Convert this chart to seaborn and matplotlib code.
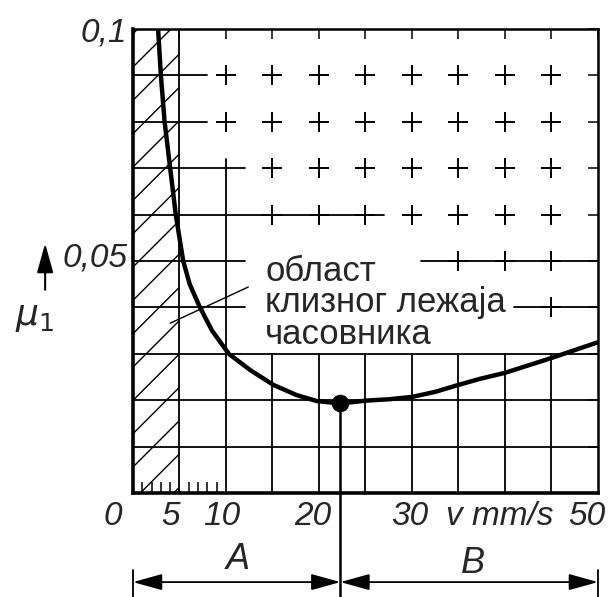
import numpy as np
import seaborn as sns
import matplotlib.pyplot as plt
from matplotlib.ticker import FixedLocator
from matplotlib.transforms import ScaledTranslation

# curve: speed v (mm/s) vs friction coefficient mu1
speed = [2.7, 3.0, 3.4, 4.0, 4.6, 5.4, 6.1, 7.2, 8.5, 10.3, 12.6, 15.1, 17.6,
         19.8, 22.3, 25.0, 27.5, 30.0, 32.5, 35.0, 37.3, 40.0, 45.0, 50.0]
mu = [0.100, 0.090, 0.080, 0.070, 0.060, 0.050, 0.045, 0.040, 0.035, 0.030,
      0.0265, 0.0233, 0.0211, 0.0198, 0.0193, 0.0199, 0.0202, 0.0207, 0.0218,
      0.0233, 0.0246, 0.0259, 0.0291, 0.0325]

# minimum point
min_speed = 22.3
min_mu = 0.0193

# hatched zone (watch bearings)
zone_limit = 5

x_ticks = [0, 5, 10, 15, 20, 25, 30, 35, 40, 45, 50]
x_labels = ['0', '5', '10', '', '20', '', '30', '', 'v mm/s', '', '50']
y_ticks = [0.0, 0.01, 0.02, 0.03, 0.04, 0.05, 0.06, 0.07, 0.08, 0.09, 0.1]
y_labels = ['', '', '', '', '', '0,05', '', '', '', '', '0,1']

note = 'област\nклизног лежаја\nчасовника'

sns.set_style('white')
plt.rcParams['font.family'] = ['Liberation Sans', 'DejaVu Sans']
plt.rcParams['hatch.linewidth'] = 1.0

fig = plt.figure(figsize=(6.1, 5.97), dpi=100)
ax = fig.add_axes([0.218, 0.1742, 0.7623, 0.7772])
ax.set_xlim(0, 50)
ax.set_ylim(0, 0.1)

# grid: full lines in the lower / left part, crosses elsewhere
gkw = dict(color='black', linewidth=1.3, zorder=1)
h_segments = [(0.01, 0, 50), (0.02, 0, 50), (0.03, 0, 50), (0.04, 0, 12),
              (0.04, 41, 50), (0.05, 0, 12), (0.05, 31, 50), (0.06, 0, 27),
              (0.07, 0, 12), (0.08, 0, 8), (0.09, 0, 8)]
for yv, x0, x1 in h_segments:
    ax.plot([x0, x1], [yv, yv], **gkw)
ax.plot([5, 5], [0, 0.1], **gkw)
ax.plot([10, 10], [0, 0.072], **gkw)
for xv in x_ticks[3:-1]:
    ax.plot([xv, xv], [0, 0.03], **gkw)

cx, cy = [], []
for xv in x_ticks[2:-1]:
    for yv in y_ticks[4:-1]:
        if xv == 10 and yv <= 0.07:
            continue
        # leave the note area free
        if 0.035 < yv < 0.055 and xv <= 35 and not (yv == 0.05 and xv == 35):
            continue
        if yv == 0.04 and xv == 40:
            continue
        cx.append(xv)
        cy.append(yv)
ax.plot(cx, cy, linestyle='none', marker='+', markersize=15, mew=1.4,
        color='black', zorder=1)

# hatched region
ax.fill_betweenx([0, 0.1], 0, zone_limit, hatch='/', facecolor='none',
                 edgecolor='black', linewidth=0, zorder=1)

# curve and minimum point
sns.lineplot(x=speed, y=mu, sort=False, color='black', linewidth=3.2,
             ax=ax, zorder=3, solid_joinstyle='round', solid_capstyle='butt')
sns.scatterplot(x=[min_speed], y=[min_mu], s=160, color='black', ax=ax,
                zorder=4, linewidth=0)

# note with leader line
ax.text(14.2, 0.0514, note, fontsize=25, va='top', ha='left', linespacing=0.95,
        zorder=2)
ax.plot([4.0, 12.4], [0.0366, 0.0444], color='black', linewidth=1.0, zorder=2)

# axes frame and ticks
for side in ['left', 'bottom']:
    ax.spines[side].set_linewidth(2.6)
for side in ['top', 'right']:
    ax.spines[side].set_linewidth(1.8)
for sp in ax.spines.values():
    sp.set_color('black')

ax.set_xticks(x_ticks)
ax.set_xticklabels(x_labels, fontsize=24, fontstyle='italic')
ax.xaxis.set_minor_locator(FixedLocator(list(range(1, 10))))
ax.tick_params(axis='x', which='major', bottom=False, top=True, direction='in',
               length=7, width=1.3, pad=6)
ax.tick_params(axis='x', which='minor', bottom=True, top=False, direction='in',
               length=8, width=1.3)
shifts = [-20, -9, -4, 0, -6, 0, -2, 0, -5, 0, -11]
for lbl, dx in zip(ax.get_xticklabels(), shifts):
    lbl.set_transform(lbl.get_transform() + ScaledTranslation(dx / 100, 0, fig.dpi_scale_trans))

ax.set_yticks(y_ticks)
ax.set_yticklabels(y_labels, fontsize=24, fontstyle='italic')
ax.tick_params(axis='y', left=False, right=True, direction='in', length=7,
               width=1.3, pad=4)
ylbls = ax.get_yticklabels()
ylbls[5].set_transform(ylbls[5].get_transform() + ScaledTranslation(0, 0.07, fig.dpi_scale_trans))
ax.set_xlabel('')
ax.set_ylabel('')

# A / B ranges below the axis
xt = ax.get_xaxis_transform()
akw = dict(arrowstyle='<|-|>,head_length=0.9,head_width=0.25', color='black',
           lw=1.3, shrinkA=0, shrinkB=0, mutation_scale=20)
ax.annotate('', xy=(0, -0.192), xytext=(min_speed, -0.192), xycoords=xt,
            textcoords=xt, arrowprops=akw, annotation_clip=False)
ax.annotate('', xy=(min_speed, -0.192), xytext=(50, -0.192), xycoords=xt,
            textcoords=xt, arrowprops=akw, annotation_clip=False)
ax.plot([0, 0], [-0.166, -0.224], transform=xt, clip_on=False, color='black', lw=1.3)
ax.plot([50, 50], [-0.166, -0.224], transform=xt, clip_on=False, color='black', lw=1.3)
ax.plot([min_speed, min_speed], [min_mu / 0.1, -0.224], transform=xt,
        clip_on=False, color='black', lw=1.8, zorder=3)
ax.text(11.3, -0.144, 'A', transform=xt, fontsize=26, fontstyle='italic',
        ha='center', va='center')
ax.text(36.6, -0.151, 'B', transform=xt, fontsize=26, fontstyle='italic',
        ha='center', va='center')

# mu1 with arrow on the left
fig.text(0.057, 0.47, r'$\mu_1$', fontsize=26, ha='center', va='center')
ax.annotate('', xy=(0.074, 0.597), xytext=(0.074, 0.51),
            xycoords='figure fraction', textcoords='figure fraction',
            arrowprops=dict(arrowstyle='-|>,head_length=0.9,head_width=0.25',
                            color='black', lw=1.5, mutation_scale=20))

fig.savefig('out.png', dpi=100)
